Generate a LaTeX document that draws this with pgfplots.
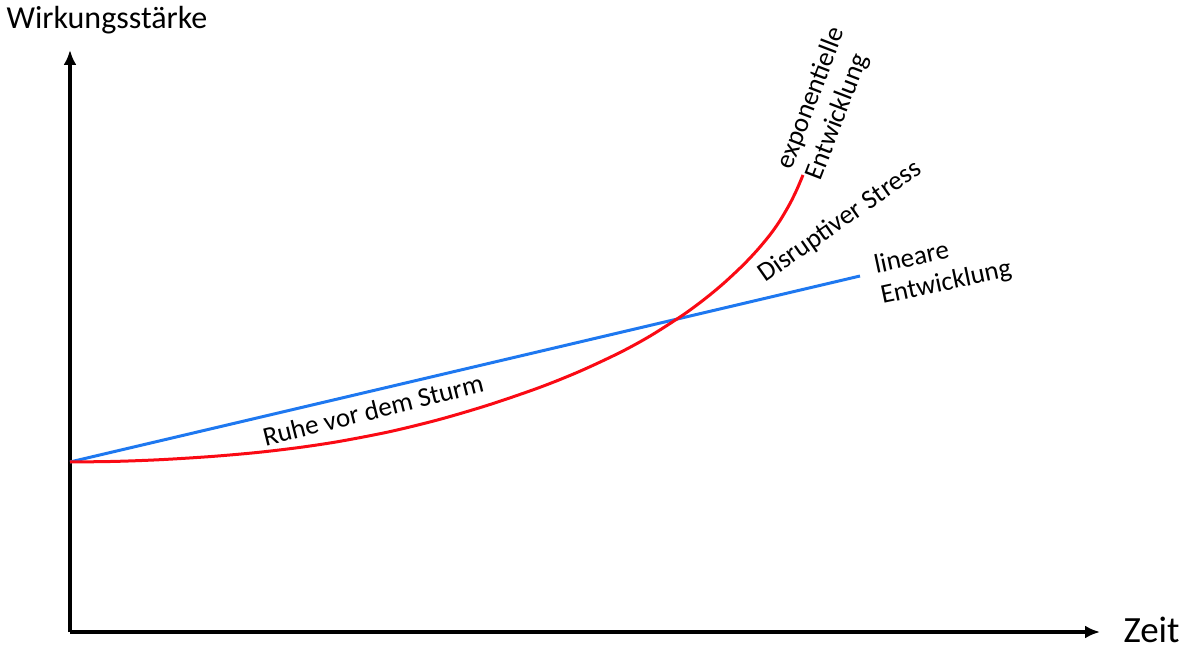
\documentclass[border=0pt]{standalone}
\usepackage{fontspec}
\setmainfont{Carlito}
\usepackage{pgfplots}
\pgfplotsset{compat=1.18}
\usetikzlibrary{arrows.meta}

\definecolor{linblue}{RGB}{30,120,240}
\definecolor{expred}{RGB}{250,10,20}

\begin{document}
\begin{tikzpicture}
    \begin{axis}[
        x=1pt, y=1pt,
        xmin=0, xmax=1030,
        ymin=0, ymax=582,
        axis lines=left,
        axis line style={line width=4pt, -{Latex[length=15pt,width=13pt]}},
        xtick=\empty,
        ytick=\empty,
        clip=false
    ]
        % lineare Entwicklung
        \addplot[linblue, line width=3pt]
        coordinates {(0,170) (790,356)};

        % exponentielle Entwicklung
        \addplot[expred, line width=3pt, smooth]
        coordinates {
            (0,170) (45,170.6) (90,172.3) (140,175.4) (187,179.5)
            (230,184.6) (270,190.7) (320,200.4) (370,212.7) (420,227.5)
            (470,244.7) (510,260.8) (550,279.5) (580,295.9) (610,315)
            (625,325.6) (640,337.2) (655,349.9) (673,366.8) (687,381.6)
            (700,397.2) (710,411.4) (720,428.5) (727,442.8) (733,457)
        };

        \node[font=\fontsize{32}{36}\selectfont, anchor=west]
            at (axis cs:-67,612) {Wirkungsstärke};
        \node[font=\fontsize{37}{42}\selectfont, anchor=west]
            at (axis cs:1050,2) {Zeit};

        \node[font=\fontsize{27}{31}\selectfont, rotate=14]
            at (axis cs:303,222) {Ruhe vor dem Sturm};
        \node[font=\fontsize{27}{31}\selectfont, rotate=35]
            at (axis cs:770,410) {Disruptiver Stress};
        \node[font=\fontsize{27}{31}\selectfont, rotate=69, align=left]
            at (axis cs:756,528) {exponentielle\\Entwicklung};
        \node[font=\fontsize{27}{31}\selectfont, rotate=12, align=left]
            at (axis cs:873,364) {lineare\\Entwicklung};

        \coordinate (bl) at (axis cs:-70,-22);
        \coordinate (tr) at (axis cs:1113,632);
    \end{axis}
    \pgfresetboundingbox
    \path[use as bounding box] (bl) rectangle (tr);
\end{tikzpicture}
\end{document}
